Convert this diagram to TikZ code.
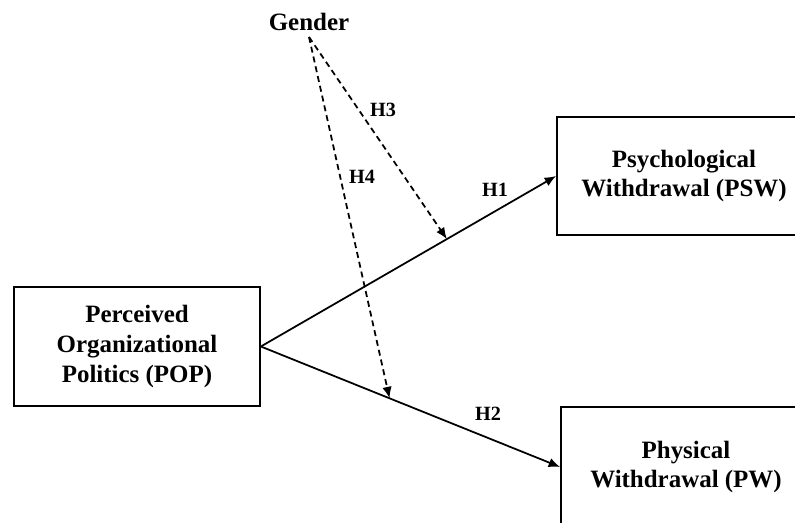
\documentclass[tikz,border=0pt]{standalone}
\usepackage{fontspec}
\setmainfont{Liberation Serif}
\usetikzlibrary{positioning}
\usetikzlibrary{arrows.meta}

\begin{document}
\begin{tikzpicture}
    [
    x=0.02cm, y=-0.02cm,
    construct/.style={rectangle,draw,line width=1pt,align=center,font=\fontsize{14.2}{17}\selectfont\bfseries},
    hyp/.style={font=\fontsize{11.5}{13}\selectfont\bfseries},
    path/.style={line width=1pt,-{Latex[length=2.3mm,width=1.9mm]}},
    moderation/.style={line width=1pt,dash pattern=on 3.4pt off 2.3pt,-{Latex[length=2.3mm,width=1.9mm]}}
    ]
    \useasboundingbox (0,0) rectangle (795,523);
    \clip (0,0) rectangle (795,523);
    \node (pop) at (137,346.5) [construct,minimum width=4.92cm,minimum height=2.38cm] {Perceived\\Organizational\\Politics (POP)};
    \node (psw) at (684,176) [construct,minimum width=5.08cm,minimum height=2.36cm] {Psychological\\Withdrawal (PSW)};
    \node (pw) at (686,467) [construct,minimum width=5.0cm,minimum height=2.4cm] {Physical\\Withdrawal (PW)};
    \node (gender) at (309,22) [font=\fontsize{14.2}{17}\selectfont\bfseries] {Gender};
    \draw [path] (pop.east) -- (psw.west) coordinate[pos=0.63] (m1);
    \draw [path] (pop.east) -- (pw.west) coordinate[pos=0.43] (m2);
    \draw [moderation] (gender.south) -- (m1);
    \draw [moderation] (gender.south) -- (m2);
    \node (h1) at (495,190) [hyp] {H1};
    \node (h2) at (488,414) [hyp] {H2};
    \node (h3) at (383,110) [hyp] {H3};
    \node (h4) at (362,177) [hyp] {H4};
  \end{tikzpicture}
\end{document}
